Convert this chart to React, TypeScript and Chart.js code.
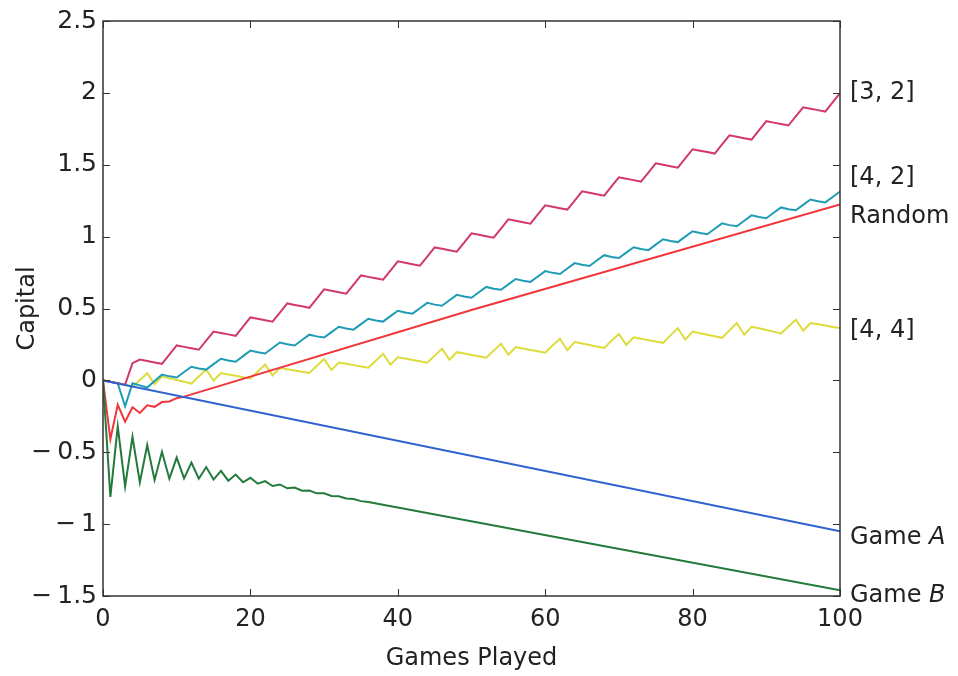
import React, { useEffect, useRef } from "react";
import { Chart, registerables } from "chart.js";

Chart.register(...registerables);

const xTicks = [0, 20, 40, 60, 80, 100];
const yTicks = [-1.5, -1, -0.5, 0, 0.5, 1, 1.5, 2, 2.5];

const games = [
  0, 1, 2, 3, 4, 5, 6, 7, 8, 9, 10, 11, 12, 13, 14, 15, 16, 17, 18, 19, 20,
  21, 22, 23, 24, 25, 26, 27, 28, 29, 30, 31, 32, 33, 34, 35, 36, 37, 38, 39, 40,
  41, 42, 43, 44, 45, 46, 47, 48, 49, 50, 51, 52, 53, 54, 55, 56, 57, 58, 59, 60,
  61, 62, 63, 64, 65, 66, 67, 68, 69, 70, 71, 72, 73, 74, 75, 76, 77, 78, 79, 80,
  81, 82, 83, 84, 85, 86, 87, 88, 89, 90, 91, 92, 93, 94, 95, 96, 97, 98, 99, 100,
];

const strategy32 = [
  0, -0.01, -0.02, -0.03, 0.12, 0.145, 0.135, 0.125, 0.115, 0.179, 0.243,
  0.233, 0.223, 0.213, 0.276, 0.34, 0.33, 0.32, 0.31, 0.374, 0.438,
  0.428, 0.418, 0.408, 0.471, 0.535, 0.525, 0.515, 0.505, 0.569, 0.633,
  0.623, 0.613, 0.603, 0.666, 0.73, 0.72, 0.71, 0.7, 0.764, 0.828,
  0.818, 0.808, 0.798, 0.861, 0.925, 0.915, 0.905, 0.895, 0.959, 1.023,
  1.013, 1.003, 0.993, 1.056, 1.12, 1.11, 1.1, 1.09, 1.154, 1.218,
  1.208, 1.198, 1.188, 1.251, 1.315, 1.305, 1.295, 1.285, 1.349, 1.413,
  1.403, 1.393, 1.383, 1.446, 1.51, 1.5, 1.49, 1.48, 1.544, 1.608,
  1.598, 1.588, 1.578, 1.641, 1.705, 1.695, 1.685, 1.675, 1.739, 1.803,
  1.793, 1.783, 1.773, 1.836, 1.9, 1.89, 1.88, 1.87, 1.934, 1.998,
];

const strategy42 = [
  0, -0.01, -0.02, -0.18, -0.02, -0.035, -0.05, -0.005, 0.04, 0.028, 0.02,
  0.058, 0.095, 0.083, 0.075, 0.113, 0.15, 0.138, 0.13, 0.169, 0.207,
  0.195, 0.187, 0.225, 0.263, 0.251, 0.243, 0.281, 0.318, 0.306, 0.298,
  0.336, 0.373, 0.361, 0.353, 0.391, 0.429, 0.417, 0.409, 0.447, 0.484,
  0.472, 0.464, 0.502, 0.539, 0.527, 0.519, 0.557, 0.595, 0.583, 0.575,
  0.613, 0.65, 0.638, 0.63, 0.668, 0.705, 0.693, 0.685, 0.723, 0.76,
  0.748, 0.74, 0.778, 0.816, 0.804, 0.796, 0.834, 0.871, 0.859, 0.851,
  0.889, 0.926, 0.914, 0.906, 0.944, 0.982, 0.97, 0.962, 1.0, 1.037,
  1.025, 1.017, 1.055, 1.092, 1.08, 1.072, 1.11, 1.148, 1.136, 1.128,
  1.166, 1.203, 1.191, 1.183, 1.221, 1.258, 1.246, 1.238, 1.276, 1.314,
];

const strategy44 = [
  0, -0.01, -0.02, -0.03, -0.045, 0.003, 0.05, -0.026, 0.026, 0.014, 0.002,
  -0.01, -0.022, 0.027, 0.075, -0.001, 0.051, 0.041, 0.032, 0.022, 0.013,
  0.062, 0.11, 0.034, 0.086, 0.077, 0.068, 0.06, 0.051, 0.1, 0.148,
  0.072, 0.124, 0.115, 0.106, 0.097, 0.088, 0.137, 0.185, 0.109, 0.161,
  0.152, 0.142, 0.133, 0.123, 0.172, 0.22, 0.144, 0.196, 0.187, 0.177,
  0.168, 0.158, 0.207, 0.255, 0.179, 0.231, 0.222, 0.212, 0.203, 0.193,
  0.242, 0.29, 0.21, 0.266, 0.256, 0.246, 0.236, 0.226, 0.275, 0.323,
  0.247, 0.299, 0.29, 0.28, 0.27, 0.261, 0.313, 0.364, 0.283, 0.339,
  0.328, 0.318, 0.307, 0.296, 0.348, 0.399, 0.318, 0.373, 0.362, 0.35,
  0.339, 0.327, 0.375, 0.422, 0.346, 0.399, 0.39, 0.381, 0.372, 0.364,
];

const randomGames = [0, 1, 2, 3, 4, 5, 6, 7, 8, 9, 10, 11, 50, 100];
const randomCapital = [
  0, -0.41, -0.17, -0.287, -0.187, -0.227, -0.174, -0.184, -0.151, -0.147, -0.124, -0.113, 0.49, 1.224,
];

const gameAGames = [0, 100];
const gameACapital = [0, -1.05];

const gameBGames = [
  0, 1, 2, 3, 4, 5, 6, 7, 8, 9, 10, 11, 12, 13, 14, 15, 16, 17, 18, 19, 20,
  21, 22, 23, 24, 25, 26, 27, 28, 29, 30, 31, 32, 33, 34, 35, 36, 100,
];
const gameBCapital = [
  0, -0.81, -0.32, -0.738, -0.393, -0.71, -0.45, -0.693, -0.497, -0.684, -0.537,
  -0.682, -0.572, -0.684, -0.603, -0.69, -0.63, -0.698, -0.655, -0.709, -0.678,
  -0.719, -0.701, -0.735, -0.724, -0.751, -0.745, -0.768, -0.766, -0.786, -0.786,
  -0.804, -0.806, -0.822, -0.826, -0.84, -0.846, -1.46,
];

const labelTexts = ["[3, 2]", "[4, 2]", "Random", "[4, 4]", "Game ", "Game "];
const labelItalics = ["", "", "", "", "A", "B"];
const labelLevels = [2.0, 1.41, 1.14, 0.345, -1.095, -1.5];

const COLORS = {
  s32: "#d2386c",
  s42: "#1f9cb5",
  random: "#f0363a",
  s44: "#dcdc3c",
  gameA: "#2f62cf",
  gameB: "#237a3b",
};

const TEXT = "#222222";
const SANS = "'DejaVu Sans', sans-serif";

function pts(xs: number[], ys: number[]) {
  return xs.map((x, i) => ({ x, y: ys[i] }));
}

const framePlugin = {
  id: "matlabFrame",
  afterDatasetsDraw(chart: any) {
    const { ctx, chartArea: a, scales } = chart;
    const x = scales.x;
    const y = scales.y;
    ctx.save();
    ctx.strokeStyle = "#333333";
    ctx.lineWidth = 1.5;
    ctx.strokeRect(a.left, a.top, a.right - a.left, a.bottom - a.top);
    ctx.lineWidth = 1;
    const L = 7;
    const seg = (x1: number, y1: number, x2: number, y2: number) => {
      ctx.beginPath();
      ctx.moveTo(x1, y1);
      ctx.lineTo(x2, y2);
      ctx.stroke();
    };
    x.ticks.forEach((t: any) => {
      const px = Math.round(x.getPixelForValue(t.value)) + 0.5;
      seg(px, a.bottom, px, a.bottom - L);
      seg(px, a.top, px, a.top + L);
    });
    y.ticks.forEach((t: any) => {
      const py = Math.round(y.getPixelForValue(t.value)) + 0.5;
      seg(a.left, py, a.left + L, py);
      seg(a.right, py, a.right - L, py);
    });

    ctx.fillStyle = TEXT;
    ctx.textBaseline = "middle";
    ctx.textAlign = "left";
    const lx = a.right + 10;
    labelTexts.forEach((txt, i) => {
      const py = y.getPixelForValue(labelLevels[i]);
      ctx.font = `24px ${SANS}`;
      ctx.fillText(txt, lx, py);
      if (labelItalics[i]) {
        const w = ctx.measureText(txt).width;
        ctx.font = `oblique 24px ${SANS}`;
        ctx.fillText(labelItalics[i], lx + w, py);
      }
    });
    ctx.restore();
  },
};

export default function App() {
  const ref = useRef<HTMLCanvasElement>(null);

  useEffect(() => {
    const canvas = ref.current;
    if (!canvas) return;
    const line = (label: string, data: any[], color: string) => ({
      label,
      data,
      borderColor: color,
      backgroundColor: color,
      borderWidth: 2,
      pointRadius: 0,
      tension: 0,
      fill: false,
    });
    const chart = new Chart(canvas, {
      type: "line",
      data: {
        datasets: [
          line("Game A", pts(gameAGames, gameACapital), COLORS.gameA),
          line("Game B", pts(gameBGames, gameBCapital), COLORS.gameB),
          line("Random", pts(randomGames, randomCapital), COLORS.random),
          line("[3, 2]", pts(games, strategy32), COLORS.s32),
          line("[4, 2]", pts(games, strategy42), COLORS.s42),
          line("[4, 4]", pts(games, strategy44), COLORS.s44),
        ],
      },
      options: {
        animation: false,
        responsive: false,
        devicePixelRatio: 1,
        layout: { padding: { left: 0, right: 118, top: 18, bottom: 0 } },
        plugins: {
          legend: { display: false },
          tooltip: { enabled: false },
        },
        scales: {
          x: {
            type: "linear",
            min: 0,
            max: 100,
            afterFit: (s: any) => {
              s.height = 80;
            },
            afterBuildTicks: (s: any) => {
              s.ticks = xTicks.map((v) => ({ value: v }));
            },
            grid: { display: false, drawTicks: false },
            border: { display: false },
            ticks: {
              padding: 9,
              color: TEXT,
              maxRotation: 0,
              font: { family: SANS, size: 24 },
            },
            title: {
              display: true,
              text: "Games Played",
              color: TEXT,
              font: { family: SANS, size: 24 },
              padding: { top: 0, bottom: 3 },
            },
          },
          y: {
            type: "linear",
            min: -1.5,
            max: 2.5,
            afterFit: (s: any) => {
              s.width = 103;
            },
            afterBuildTicks: (s: any) => {
              s.ticks = yTicks.map((v) => ({ value: v }));
            },
            grid: { display: false, drawTicks: false },
            border: { display: false },
            ticks: {
              padding: 6,
              color: TEXT,
              font: { family: SANS, size: 25 },
              callback: (v: any) => {
                const n = Number(v);
                return n < 0 ? "\u2212\u2009" + String(Math.abs(n)) : String(n);
              },
            },
            title: {
              display: true,
              text: "Capital",
              color: TEXT,
              font: { family: SANS, size: 24 },
              padding: { top: 13, bottom: 0 },
            },
          },
        },
      },
      plugins: [framePlugin],
    });
    return () => chart.destroy();
  }, []);

  return (
    <div
      style={{
        position: "fixed",
        left: 0,
        top: 0,
        width: 958,
        height: 676,
        background: "#ffffff",
      }}
    >
      <canvas ref={ref} width={958} height={676} style={{ display: "block" }} />
    </div>
  );
}
